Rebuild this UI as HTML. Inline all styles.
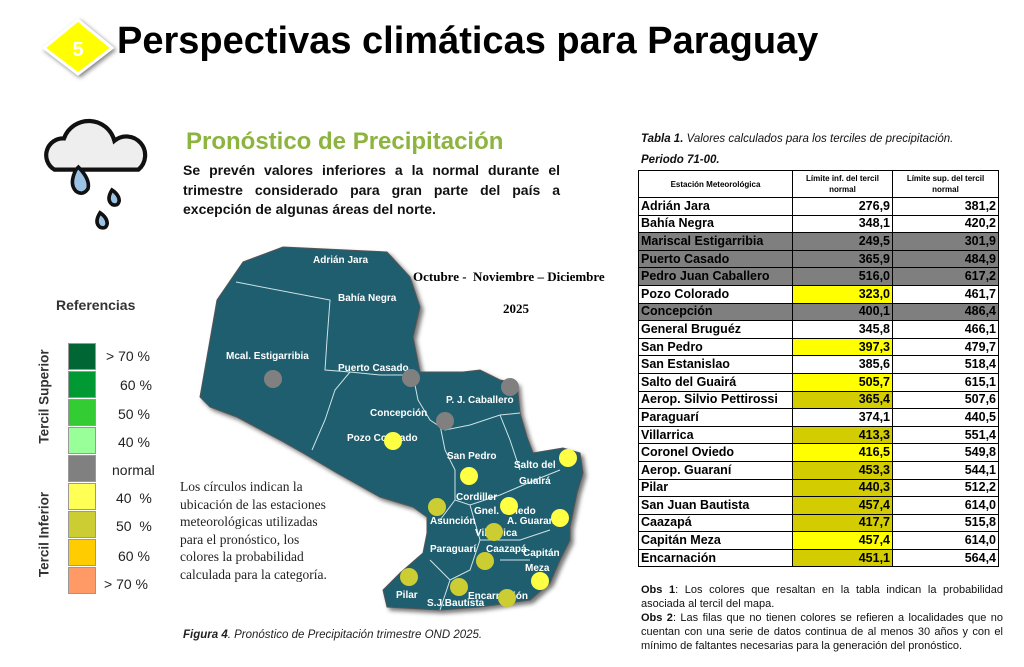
<!DOCTYPE html>
<html><head><meta charset="utf-8"><style>
body{margin:0;width:1024px;height:667px;background:#fff;position:relative;overflow:hidden;font-family:"Liberation Sans",sans-serif}
.a{position:absolute;white-space:nowrap}
table{position:absolute;left:638px;top:170px;border-collapse:collapse;font-family:"Liberation Sans",sans-serif}
td{border:1.5px solid #000;height:16.6px;padding:0 2px;font-size:12.5px;font-weight:bold;line-height:15px}
td.n{width:149px;text-align:left}
td.v{width:95px;text-align:right}
td.w{width:101px;text-align:right}
.g{background:#7f7f7f}.y{background:#ffff00}.o{background:#d2cc00}
th{border:1.5px solid #000;font-size:8px;font-weight:bold;height:26px;padding:0;line-height:11px}
.lb{position:absolute;left:68px;width:28px;height:27px;border:1px solid #999;box-sizing:border-box}
.lt{position:absolute;font-size:14px;color:#222}
</style></head><body>
<svg class="a" style="left:40px;top:14px" width="80" height="70"><polygon points="38,6 72,34 38,60 4,34" fill="#ffff00" stroke="#fff" stroke-width="3" style="filter:drop-shadow(2px 2px 2px #888)"/><text x="38" y="42" font-family="Liberation Sans" font-weight="bold" font-size="20" fill="#fff" text-anchor="middle">5</text></svg>
<div class="a" style="left:117px;top:20px;font-size:38px;font-weight:bold;color:#000">Perspectivas climáticas para Paraguay</div>
<svg class="a" style="left:28px;top:100px" width="140" height="140"><g transform="scale(1.2)"><path d="M22,58 a14,14 0 0 1 8,-26 a22,22 0 0 1 42,2 a14,14 0 0 1 20,24 z" fill="#eee" stroke="#111" stroke-width="3.5"/><path d="M40,58 q-6,12 0,18 q6,4 10,-2 q2,-8 -8,-18z" fill="#9cc3e6" stroke="#111" stroke-width="3"/><path d="M70,75 q-5,8 0,12 q5,2 6,-3 q0,-5 -6,-9z" fill="#9cc3e6" stroke="#111" stroke-width="3"/><path d="M60,94 q-5,8 0,12 q5,2 6,-3 q0,-5 -6,-9z" fill="#9cc3e6" stroke="#111" stroke-width="3"/></g></svg>
<div class="a" style="left:186px;top:128px;font-size:24px;font-weight:bold;color:#8db43e">Pronóstico de Precipitación</div>
<div class="a" style="left:183px;top:161px;width:377px;white-space:normal;font-size:14px;font-weight:bold;line-height:19.5px;text-align:justify;color:#111">Se prevén valores inferiores a la normal durante el trimestre considerado para gran parte del país a excepción de algunas áreas del norte.</div>
<div class="a" style="left:56px;top:297px;font-size:14px;font-weight:bold;color:#333">Referencias</div>
<div class="lb" style="top:343px;background:#006633"></div>
<div class="lb" style="top:371px;background:#009933"></div>
<div class="lb" style="top:399px;background:#33cc33"></div>
<div class="lb" style="top:427px;background:#99ff99"></div>
<div class="lb" style="top:455px;background:#808080"></div>
<div class="lb" style="top:483px;background:#ffff55"></div>
<div class="lb" style="top:511px;background:#cccc33"></div>
<div class="lb" style="top:539px;background:#ffcc00"></div>
<div class="lb" style="top:567px;background:#ff9966"></div>
<div class="lt" style="left:106px;top:348px">&gt; 70 %</div>
<div class="lt" style="left:120px;top:377px">60 %</div>
<div class="lt" style="left:118px;top:406px">50 %</div>
<div class="lt" style="left:118px;top:434px">40 %</div>
<div class="lt" style="left:112px;top:462px">normal</div>
<div class="lt" style="left:116px;top:490px">40&nbsp; %</div>
<div class="lt" style="left:116px;top:518px">50&nbsp; %</div>
<div class="lt" style="left:118px;top:548px">60 %</div>
<div class="lt" style="left:104px;top:576px">&gt; 70 %</div>
<div class="a" style="left:-16px;top:389px;transform:rotate(-90deg);font-size:13.5px;font-weight:bold;color:#333;width:120px;text-align:center">Tercil Superior</div>
<div class="a" style="left:-16px;top:527px;transform:rotate(-90deg);font-size:13.5px;font-weight:bold;color:#333;width:120px;text-align:center">Tercil Inferior</div>
<svg class="a" style="left:0;top:0" width="640" height="667">
<polygon points="243,262 283,247 387,252 410,277 420,307 413,337 420,372 463,372 480,370 500,380 517,383 520,413 527,437 533,453 563,448 580,453 583,473 577,493 570,527 570,540 560,560 550,583 530,600 480,607 440,610 387,607 383,590 400,573 423,553 427,533 427,517 413,507 380,497 337,473 303,453 280,440 237,417 210,407 200,397 217,300" fill="#1e5e6e" stroke="#555" stroke-width="1" style="filter:drop-shadow(3px 3px 2px #777)"/>
<g fill="none" stroke="#cfe3e8" stroke-width="1">
<path d="M236,282 L330,300 L327,340 L325,370 L350,372 L380,375 L413,375"/>
<path d="M350,372 L335,390 L325,420 L312,450"/>
<path d="M413,375 L418,400 L430,420 L445,430 L470,425 L500,415 L520,413"/>
<path d="M440,425 L445,450 L455,470 L455,500 L470,505 L500,495 L535,480 L560,470"/>
<path d="M500,415 L510,440 L520,470 M455,500 L440,520 M470,505 L480,540 L470,570 L450,580 L430,560 M480,540 L520,540 L550,530 M500,560 L530,560 M440,610 L450,580"/>
</g>
<g font-family="Liberation Sans" font-size="10" font-weight="bold" fill="#fff">
<text x="313" y="263">Adrián Jara</text><text x="338" y="301">Bahía Negra</text>
<text x="226" y="359">Mcal. Estigarribia</text><text x="338" y="371">Puerto Casado</text>
<text x="446" y="403">P. J. Caballero</text><text x="370" y="416">Concepción</text>
<text x="347" y="441">Pozo Colorado</text><text x="447" y="459">San Pedro</text>
<text x="514" y="468">Salto del</text><text x="519" y="484">Guairá</text>
<text x="456" y="500">Cordiller</text><text x="474" y="514">Gnel. Oviedo</text>
<text x="430" y="524">Asunción</text><text x="507" y="524">A. Guaraní</text>
<text x="475" y="536">Villarrica</text><text x="430" y="552">Paraguarí</text><text x="486" y="552">Caazapá</text>
<text x="523" y="556">Capitán</text><text x="525" y="571">Meza</text>
<text x="396" y="598">Pilar</text><text x="427" y="606">S.J.Bautista</text><text x="468" y="599">Encarnación</text>
</g>
<g fill="#808080"><circle cx="273" cy="379" r="9"/><circle cx="411" cy="378" r="9"/><circle cx="510" cy="387" r="9"/><circle cx="445" cy="421" r="9"/></g>
<g fill="#ffff44"><circle cx="393" cy="441" r="9"/><circle cx="469" cy="476" r="9"/><circle cx="568" cy="458" r="9"/><circle cx="509" cy="506" r="9"/><circle cx="560" cy="518" r="9"/><circle cx="540" cy="581" r="9"/></g>
<g fill="#cccc33"><circle cx="437" cy="507" r="9"/><circle cx="494" cy="532" r="9"/><circle cx="485" cy="561" r="9"/><circle cx="409" cy="577" r="9"/><circle cx="459" cy="587" r="9"/><circle cx="507" cy="598" r="9"/></g>
</svg>
<div class="a" style="left:413px;top:269px;font-family:'Liberation Serif',serif;font-weight:bold;font-size:13px">Octubre -&nbsp; Noviembre – Diciembre</div>
<div class="a" style="left:503px;top:301px;font-family:'Liberation Serif',serif;font-weight:bold;font-size:13px">2025</div>
<div class="a" style="left:180px;top:478px;font-family:'Liberation Serif',serif;font-size:13.5px;line-height:17.5px;color:#222">Los círculos indican la<br>ubicación de las estaciones<br>meteorológicas utilizadas<br>para el pronóstico, los<br>colores la probabilidad<br>calculada para la categoría.</div>
<div class="a" style="left:183px;top:629px;font-size:11.5px;font-style:italic;color:#222"><b>Figura 4</b>. Pronóstico de Precipitación trimestre OND 2025.</div>
<div class="a" style="left:641px;top:129px;font-size:11.5px;font-style:italic;color:#111;line-height:21px"><b>Tabla 1.</b> Valores calculados para los terciles de precipitación.<br><b>Periodo 71-00.</b></div>
<table>
<tr><th>Estación Meteorológica</th><th>Límite inf. del tercil<br>normal</th><th>Límite sup. del tercil<br>normal</th></tr>
<tr><td class="n">Adrián Jara</td><td class="v">276,9</td><td class="w">381,2</td></tr>
<tr><td class="n">Bahía Negra</td><td class="v">348,1</td><td class="w">420,2</td></tr>
<tr><td class="n g">Mariscal Estigarribia</td><td class="v g">249,5</td><td class="w g">301,9</td></tr>
<tr><td class="n g">Puerto Casado</td><td class="v g">365,9</td><td class="w g">484,9</td></tr>
<tr><td class="n g">Pedro Juan Caballero</td><td class="v g">516,0</td><td class="w g">617,2</td></tr>
<tr><td class="n">Pozo Colorado</td><td class="v y">323,0</td><td class="w">461,7</td></tr>
<tr><td class="n g">Concepción</td><td class="v g">400,1</td><td class="w g">486,4</td></tr>
<tr><td class="n">General Bruguéz</td><td class="v">345,8</td><td class="w">466,1</td></tr>
<tr><td class="n">San Pedro</td><td class="v y">397,3</td><td class="w">479,7</td></tr>
<tr><td class="n">San Estanislao</td><td class="v">385,6</td><td class="w">518,4</td></tr>
<tr><td class="n">Salto del Guairá</td><td class="v y">505,7</td><td class="w">615,1</td></tr>
<tr><td class="n">Aerop. Silvio Pettirossi</td><td class="v o">365,4</td><td class="w">507,6</td></tr>
<tr><td class="n">Paraguarí</td><td class="v">374,1</td><td class="w">440,5</td></tr>
<tr><td class="n">Villarrica</td><td class="v o">413,3</td><td class="w">551,4</td></tr>
<tr><td class="n">Coronel Oviedo</td><td class="v y">416,5</td><td class="w">549,8</td></tr>
<tr><td class="n">Aerop. Guaraní</td><td class="v o">453,3</td><td class="w">544,1</td></tr>
<tr><td class="n">Pilar</td><td class="v o">440,3</td><td class="w">512,2</td></tr>
<tr><td class="n">San Juan Bautista</td><td class="v o">457,4</td><td class="w">614,0</td></tr>
<tr><td class="n">Caazapá</td><td class="v o">417,7</td><td class="w">515,8</td></tr>
<tr><td class="n">Capitán Meza</td><td class="v y">457,4</td><td class="w">614,0</td></tr>
<tr><td class="n">Encarnación</td><td class="v o">451,1</td><td class="w">564,4</td></tr>
</table>
<div class="a" style="left:641px;top:583px;width:362px;white-space:normal;font-size:11px;line-height:14px;text-align:justify;color:#111"><b>Obs 1</b>: Los colores que resaltan en la tabla indican la probabilidad asociada al tercil del mapa.<br><b>Obs 2</b>: Las filas que no tienen colores se refieren a localidades que no cuentan con una serie de datos continua de al menos 30 años y con el mínimo de faltantes necesarias para la generación del pronóstico.</div>
</body></html>
